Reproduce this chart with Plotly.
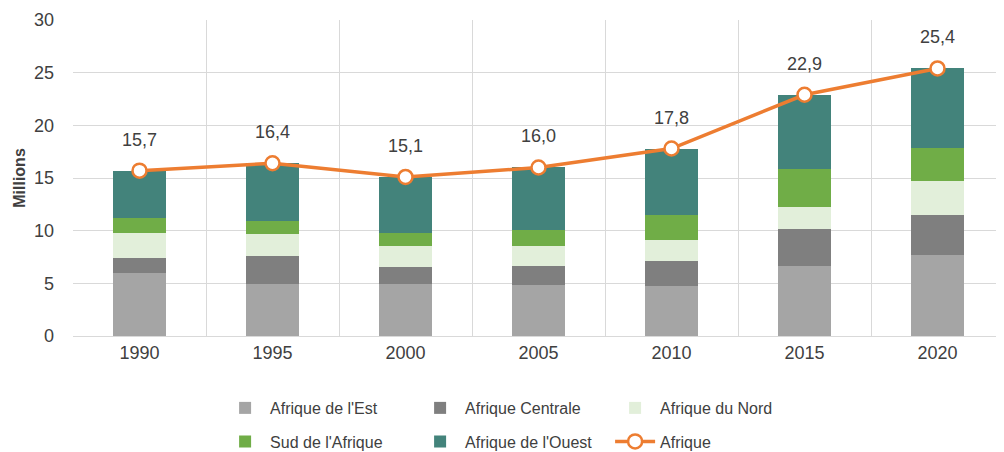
import plotly.graph_objects as go

years = ["1990", "1995", "2000", "2005", "2010", "2015", "2020"]
est = [6.0, 4.97, 4.9, 4.81, 4.75, 6.65, 7.69]
centrale = [1.37, 2.63, 1.65, 1.87, 2.37, 3.51, 3.83]
nord = [2.44, 2.05, 1.96, 1.86, 1.99, 2.12, 3.2]
sud = [1.36, 1.3, 1.24, 1.55, 2.38, 3.54, 3.16]
ouest = [4.53, 5.45, 5.35, 5.91, 6.31, 7.08, 7.52]
afrique = [15.7, 16.4, 15.1, 16.0, 17.8, 22.9, 25.4]

names = ["Afrique de l'Est", "Afrique Centrale", "Afrique du Nord", "Sud de l'Afrique", "Afrique de l'Ouest"]
series = [est, centrale, nord, sud, ouest]
colors = ["#A5A5A5", "#7F7F7F", "#E2EFDA", "#70AD47", "#43837B"]
legends = ["legend", "legend", "legend", "legend2", "legend2"]

FONT = "Liberation Sans"
TXT = "#404040"

fig = go.Figure()
for n, s, c, lg in zip(names, series, colors, legends):
    fig.add_trace(go.Bar(x=years, y=s, name=n, marker=dict(color=c, line=dict(width=0)),
                         width=0.4, legend=lg))

fig.add_trace(go.Scatter(x=years, y=afrique, name="Afrique", mode="lines+markers",
                         line=dict(color="#ED7D31", width=3.5),
                         marker=dict(symbol="circle", size=14, color="white",
                                     line=dict(color="#ED7D31", width=2.5)),
                         legend="legend2"))

for i, v in enumerate(afrique):
    fig.add_annotation(x=i, y=v, xref="x", yref="y", text=f"{v:.1f}".replace(".", ","),
                       showarrow=False, yshift=31,
                       font=dict(size=18, color=TXT, family=FONT))

fig.update_layout(
    barmode="stack",
    width=996, height=444,
    margin=dict(l=65, r=0, t=12, b=116, autoexpand=False),
    plot_bgcolor="white", paper_bgcolor="white",
    font=dict(family=FONT, size=18, color=TXT),
    showlegend=True,
    legend=dict(orientation="h", x=0.158, xanchor="left", y=-0.174, yanchor="top",
                font=dict(size=16, color=TXT), entrywidth=140, itemwidth=40,
                traceorder="normal", bgcolor="rgba(0,0,0,0)"),
    legend2=dict(orientation="h", x=0.158, xanchor="left", y=-0.28, yanchor="top",
                 font=dict(size=16, color=TXT), entrywidth=140, itemwidth=40,
                 traceorder="normal", bgcolor="rgba(0,0,0,0)"),
)
fig.update_xaxes(type="category", range=[-0.5, 6.5], tickson="boundaries", showgrid=True,
                 gridcolor="#D9D9D9", gridwidth=1, showline=True, linecolor="#D9D9D9",
                 ticks="", ticklen=0, tickfont=dict(size=18, color=TXT), automargin=False)
fig.update_yaxes(range=[0, 30], dtick=5, showgrid=True, gridcolor="#D9D9D9", gridwidth=1,
                 zeroline=False, showline=False, tickfont=dict(size=18, color=TXT),
                 ticklabelstandoff=18, automargin=False,
                 title=dict(text="<b>Millions</b>", font=dict(size=16, color=TXT), standoff=4))

fig.write_html("out.html")
